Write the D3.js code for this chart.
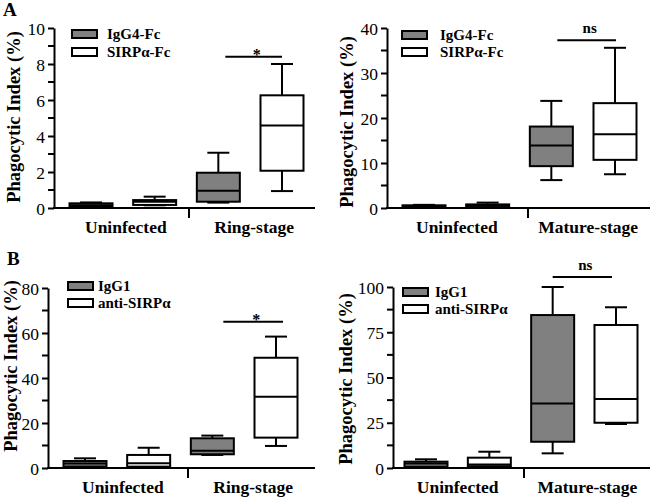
<!DOCTYPE html>
<html lang="en">
  <head>
    <meta charset="UTF-8" />
    <title>Phagocytic Index box plots</title>
    <script src="https://d3js.org/d3.v7.min.js"></script>
    <style>
      body { margin: 0; background: #fff; }
      text { font-family: "Liberation Serif", "Times New Roman", serif; fill: #000; }
    </style>
  </head>
  <body>
    <svg></svg>
    <script>
      // ---- data ----
      var groupsA1 = ["Uninfected", "Ring-stage"];
      var groupsA2 = ["Uninfected", "Mature-stage"];
      var groupsB1 = ["Uninfected", "Ring-stage"];
      var groupsB2 = ["Uninfected", "Mature-stage"];
      var seriesA = ["IgG4-Fc", "SIRPα-Fc"];
      var seriesB = ["IgG1", "anti-SIRPα"];

      // [low, q1, median, q3, high] ; order: g1/s1, g1/s2, g2/s1, g2/s2
      var statsA1 = [
        [0.05, 0.07, 0.15, 0.26, 0.31],
        [0.15, 0.17, 0.35, 0.44, 0.63],
        [0.3, 0.35, 0.96, 1.96, 3.07],
        [0.94, 2.07, 4.59, 6.26, 8.0]
      ];
      var statsA2 = [
        [0.05, 0.1, 0.3, 0.6, 0.7],
        [0.1, 0.2, 0.5, 0.8, 1.2],
        [6.2, 9.3, 13.9, 18.1, 23.8],
        [7.5, 10.7, 16.4, 23.3, 35.6]
      ];
      var statsB1 = [
        [0.6, 0.6, 2.0, 3.1, 4.3],
        [0.0, 0.6, 2.1, 5.8, 9.0],
        [5.8, 6.1, 7.7, 13.2, 14.4],
        [9.8, 13.5, 31.7, 49.0, 58.4]
      ];
      var statsB2 = [
        [0.7, 0.7, 2.5, 3.5, 4.8],
        [1.0, 1.0, 2.0, 5.7, 9.0],
        [8.1, 14.5, 35.7, 84.5, 100],
        [24.3, 25.0, 38.1, 79.0, 88.8]
      ];

      var ticksA1 = [0, 2, 4, 6, 8, 10];
      var ticksA2 = [0, 10, 20, 30, 40];
      var ticksB1 = [0, 20, 40, 60, 80];
      var ticksB2 = [0, 25, 50, 75, 100];

      var sigA1 = { label: "*", at: 8.4 };
      var sigA2 = { label: "ns", at: 37.3 };
      var sigB1 = { label: "*", at: 65 };
      var sigB2 = { label: "ns", at: 105.5 };

      // ---- layout ----
      var width = 650;
      var height = 498;
      var boxW = 43;
      var capW = 22;
      var grey = "#808080";
      var serif = "'Liberation Serif', 'Times New Roman', serif";

      var panels = [
        {
          letter: "A", letterPos: [3, 16], groups: groupsA1, series: seriesA, stats: statsA1, ticks: ticksA1, sig: sigA1,
          xr: [54, 315], centers: [91, 282], yr: [208, 28], div: 189, labelY: 233, labelDx: [3, 4],
          title: [14, 117], legX: 72, legY: [30, 48], legTextX: 107, sigDx: [7, 0]
        },
        {
          letter: "", groups: groupsA2, series: seriesA, stats: statsA2, ticks: ticksA2, sig: sigA2,
          xr: [387, 650], centers: [424, 615], yr: [208, 28], div: 528, labelY: 233, labelDx: [1, 5],
          title: [347, 122], legX: 402, legY: [31, 48], legTextX: 440, sigDx: [6, 1]
        },
        {
          letter: "B", letterPos: [7, 265], groups: groupsB1, series: seriesB, stats: statsB1, ticks: ticksB1, sig: sigB1,
          xr: [48, 315], centers: [85, 276], yr: [468, 288], div: 188, labelY: 493, labelDx: [6, 9],
          title: [11, 366], legX: 68, legY: [282, 299], legTextX: 98, sigDx: [11, 7]
        },
        {
          letter: "", groups: groupsB2, series: seriesB, stats: statsB2, ticks: ticksB2, sig: sigB2,
          xr: [393, 650], centers: [426, 616], yr: [468, 287], div: 524, labelY: 493, labelDx: [0, 3],
          title: [346, 379], legX: 403, legY: [288, 305], legTextX: 435, sigDx: [0, -4]
        }
      ];

      var svg = d3.select("svg").attr("width", width).attr("height", height);

      panels.forEach(function (p) {
        var g = svg.append("g");
        var top = p.ticks[p.ticks.length - 1];
        var y = d3.scaleLinear().domain([0, top]).range(p.yr);
        var x = d3.scalePoint().domain([0, 1, 2, 3]).range(p.centers);
        var step = p.ticks[1] - p.ticks[0];
        var minor = d3.range(step / 2, top, step);

        // y axis with minor ticks
        var yAxis = g.append("g")
          .attr("transform", "translate(" + p.xr[0] + ",0)")
          .call(d3.axisLeft(y).tickValues(p.ticks).tickSize(6).tickPadding(3).tickSizeOuter(0))
          .attr("font-family", serif)
          .attr("font-size", 17);
        yAxis.select(".domain").attr("stroke-width", 2);
        yAxis.selectAll(".tick line").attr("stroke-width", 2);
        yAxis.selectAll(".tick text")
          .style("font-family", serif)
          .style("font-size", "17.5px")
          .attr("dy", "0.35em");
        yAxis.selectAll(".minor")
          .data(minor)
          .join("line")
          .attr("class", "minor")
          .attr("x1", -6).attr("x2", 0)
          .attr("y1", function (d) { return y(d); })
          .attr("y2", function (d) { return y(d); })
          .attr("stroke", "#000")
          .attr("stroke-width", 2);

        // x axis line + divider
        g.append("line")
          .attr("x1", p.xr[0] - 1).attr("x2", p.xr[1])
          .attr("y1", y(0)).attr("y2", y(0))
          .attr("stroke", "#000").attr("stroke-width", 2);
        g.append("line")
          .attr("x1", p.div).attr("x2", p.div)
          .attr("y1", y(0)).attr("y2", y(0) + 10)
          .attr("stroke", "#000").attr("stroke-width", 2);

        // group labels
        p.groups.forEach(function (name, gi) {
          g.append("text")
            .attr("x", (x(gi * 2) + x(gi * 2 + 1)) / 2 + p.labelDx[gi])
            .attr("y", p.labelY)
            .attr("text-anchor", "middle")
            .style("font-size", "17.5px")
            .style("font-weight", "bold")
            .text(name);
        });

        // y title
        g.append("text")
          .attr("transform", "translate(" + p.title[0] + "," + p.title[1] + ") rotate(-90)")
          .attr("text-anchor", "middle")
          .attr("dominant-baseline", "central")
          .style("font-size", "18.5px")
          .style("font-weight", "bold")
          .text("Phagocytic Index (%)");

        // boxes
        var boxes = g.selectAll(".box")
          .data(p.stats)
          .join("g")
          .attr("class", "box")
          .attr("transform", function (d, i) { return "translate(" + x(i) + ",0)"; });

        boxes.append("line")
          .attr("x1", 0).attr("x2", 0)
          .attr("y1", function (d) { return y(d[0]); })
          .attr("y2", function (d) { return y(d[4]); })
          .attr("stroke", "#000").attr("stroke-width", 2);
        boxes.append("line")
          .attr("x1", -capW / 2).attr("x2", capW / 2)
          .attr("y1", function (d) { return y(d[4]); })
          .attr("y2", function (d) { return y(d[4]); })
          .attr("stroke", "#000").attr("stroke-width", 2);
        boxes.append("line")
          .attr("x1", -capW / 2).attr("x2", capW / 2)
          .attr("y1", function (d) { return y(d[0]); })
          .attr("y2", function (d) { return y(d[0]); })
          .attr("stroke", "#000").attr("stroke-width", 2);
        boxes.append("rect")
          .attr("x", -boxW / 2)
          .attr("width", boxW)
          .attr("y", function (d) { return y(d[3]); })
          .attr("height", function (d) { return Math.max(0, y(d[1]) - y(d[3])); })
          .attr("fill", function (d, i) { return i % 2 === 0 ? grey : "#fff"; })
          .attr("stroke", "#000").attr("stroke-width", 2);
        boxes.append("line")
          .attr("x1", -boxW / 2).attr("x2", boxW / 2)
          .attr("y1", function (d) { return y(d[2]); })
          .attr("y2", function (d) { return y(d[2]); })
          .attr("stroke", "#000").attr("stroke-width", 2);

        // legend
        p.series.forEach(function (name, si) {
          g.append("rect")
            .attr("x", p.legX).attr("y", p.legY[si])
            .attr("width", 25).attr("height", 8)
            .attr("fill", si === 0 ? grey : "#fff")
            .attr("stroke", "#000").attr("stroke-width", 2);
          g.append("text")
            .attr("x", p.legTextX).attr("y", p.legY[si] + 9)
            .style("font-size", "15px")
            .style("font-weight", "bold")
            .text(name);
        });

        // significance bar
        var sx1 = x(2) + p.sigDx[0];
        var sx2 = x(3) + p.sigDx[1];
        var sy = y(p.sig.at);
        g.append("line")
          .attr("x1", sx1).attr("x2", sx2)
          .attr("y1", sy).attr("y2", sy)
          .attr("stroke", "#000").attr("stroke-width", 2);
        g.append("text")
          .attr("x", (sx1 + sx2) / 2 + 3)
          .attr("y", p.sig.label === "*" ? sy + 3 : sy - 7)
          .attr("text-anchor", "middle")
          .style("font-size", p.sig.label === "*" ? "16px" : "15px")
          .style("font-weight", "bold")
          .text(p.sig.label);

        // panel letter
        if (p.letter) {
          svg.append("text")
            .attr("x", p.letterPos[0]).attr("y", p.letterPos[1])
            .style("font-size", "19px")
            .style("font-weight", "bold")
            .text(p.letter);
        }
      });

      svg.selectAll(".tick line").attr("stroke", "#000");
    </script>
  </body>
</html>
